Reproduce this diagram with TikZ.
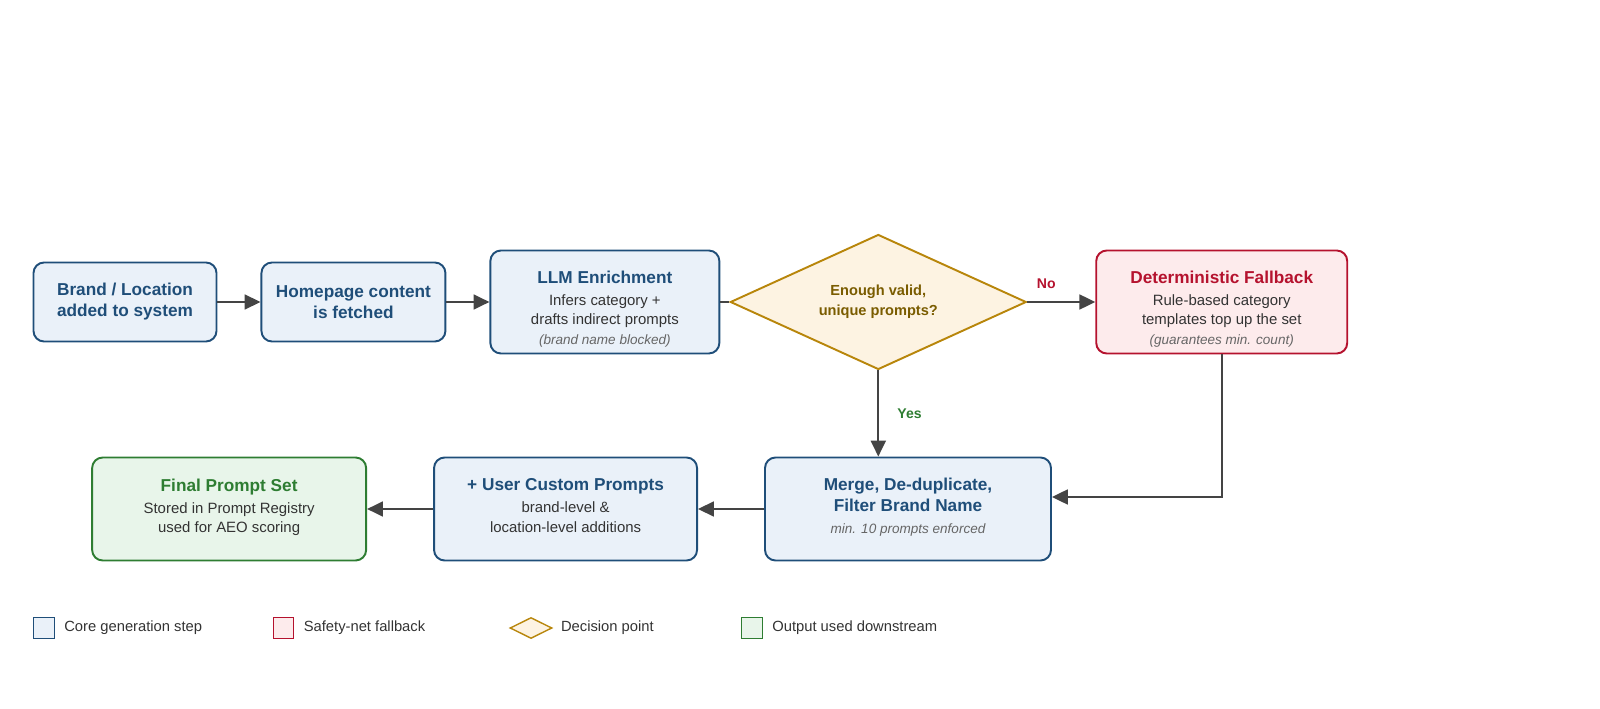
\documentclass[tikz,border=0pt]{standalone}
\usepackage{fontspec}
\setmainfont{Liberation Sans}
\usepackage{xcolor}
\usetikzlibrary{shapes.geometric, calc, positioning, arrows.meta}

\definecolor{coreblue}{HTML}{1F4E79}
\definecolor{corefill}{HTML}{EAF1F9}
\definecolor{fallred}{HTML}{B5122E}
\definecolor{fallfill}{HTML}{FDEBEC}
\definecolor{decgold}{HTML}{B8860B}
\definecolor{decfill}{HTML}{FDF3E2}
\definecolor{dectext}{HTML}{7A5C00}
\definecolor{outgreen}{HTML}{2E7D32}
\definecolor{outfill}{HTML}{E8F5EA}
\definecolor{bodytext}{HTML}{333333}
\definecolor{notegray}{HTML}{666666}
\definecolor{arrowgray}{HTML}{444444}

\newcommand{\steptitle}[2]{\textcolor{#1}{\fontsize{9.8}{12}\selectfont\bfseries #2}}
\newcommand{\stepnote}[1]{\textcolor{notegray}{\fontsize{7.7}{11}\selectfont\itshape #1}}
% struts to nudge text blocks inside the boxes
\newcommand{\topstrut}{\rule{0pt}{15pt}}
\newcommand{\botstrut}{\rule[-4pt]{0pt}{4pt}}

\begin{document}
\begin{tikzpicture}[node distance=0.86cm,
    stepbox/.style={draw, line width=1.1pt, rounded corners=6pt, align=center, text=bodytext,
        font=\fontsize{8.5}{11}\selectfont},
    core/.style={stepbox, draw=coreblue, fill=corefill},
    fallback/.style={stepbox, draw=fallred, fill=fallfill},
    output/.style={stepbox, draw=outgreen, fill=outfill},
    bigtitle/.style={text=coreblue, font=\fontsize{9.8}{12}\selectfont\bfseries},
    decision/.style={diamond, aspect=2.2, draw=decgold, fill=decfill, line width=1.1pt, inner sep=0pt,
        minimum width=5.92cm, minimum height=2.7cm, align=center, text=dectext,
        font=\fontsize{8.3}{11.5}\selectfont\bfseries},
    flow/.style={draw=arrowgray, line width=1.1pt, -{Triangle[length=9pt,width=8.5pt]}},
    legbox/.style={draw, line width=0.8pt, minimum size=0.41cm, inner sep=0pt},
    legtext/.style={inner sep=0pt, text=bodytext, font=\fontsize{8.4}{10}\selectfont}]
    \useasboundingbox (0,0) rectangle (32,-14.18);

    % top row
    \node[core, bigtitle, minimum width=3.66cm, minimum height=1.58cm] (brand) at (2.50,-6.04) {Brand / Location\\added to system};
    \node[core, bigtitle, minimum width=3.68cm, minimum height=1.58cm, right=of brand] (fetch) {Homepage content\\is fetched};
    \node[core, minimum width=4.58cm, minimum height=2.06cm, right=of fetch] (llm)
        {\topstrut\steptitle{coreblue}{LLM Enrichment}\\[1.5pt] Infers category +\\drafts indirect prompts\\\stepnote{(brand name blocked)}};
    \node[decision, right=0.18cm of llm] (check) {Enough valid,\\unique prompts?};
    \node[fallback, minimum width=5.02cm, minimum height=2.06cm, right=1.36cm of check] (fallback)
        {\topstrut\steptitle{fallred}{Deterministic Fallback}\\[1.5pt] Rule-based category\\templates top up the set\\\stepnote{(guarantees min. count)}};

    % bottom row
    \node[core, minimum width=5.72cm, minimum height=2.06cm] (merge) at (18.16,-10.18)
        {\steptitle{coreblue}{Merge, De-duplicate,}\\[1pt]\steptitle{coreblue}{Filter Brand Name}\\[1.5pt]\stepnote{min. 10 prompts enforced}\botstrut};
    \node[core, minimum width=5.26cm, minimum height=2.06cm, left=1.32cm of merge] (custom)
        {\steptitle{coreblue}{+ User Custom Prompts}\\[1.5pt] brand-level \&\\location-level additions\botstrut};
    \node[output, minimum width=5.48cm, minimum height=2.06cm, left=1.32cm of custom] (final)
        {\steptitle{outgreen}{Final Prompt Set}\\[1.5pt] Stored in Prompt Registry\\used for AEO scoring\botstrut};
    \coordinate (mergein) at ($(merge.east)+(0,0.24)$);

    % connectors
    \draw[flow] (brand) -- (fetch);
    \draw[flow] (fetch) -- (llm);
    \draw[draw=arrowgray, line width=1.1pt] (llm) -- (check);
    \draw[flow] (check) -- node[pos=0.28, above=4pt, text=fallred, font=\fontsize{8}{10}\selectfont\bfseries] {No} (fallback);
    \draw[flow] (check.south) -- node[pos=0.5, right=7pt, text=outgreen, font=\fontsize{8}{10}\selectfont\bfseries] {Yes} (check.south |- merge.north);
    \draw[flow] (fallback.south) |- (mergein);
    \draw[flow] (merge) -- (custom);
    \draw[flow] (custom) -- (final);

    % legend
    \node[legbox, draw=coreblue, fill=corefill] (legcore) at (0.88,-12.56) {};
    \node[legtext, right=0.18cm of legcore] (legcoretxt) {Core generation step};
    \node[legbox, draw=fallred, fill=fallfill] (legfall) at (5.67,-12.56) {};
    \node[legtext, right=0.18cm of legfall] (legfalltxt) {Safety-net fallback};
    \node[diamond, aspect=2, draw=decgold, fill=decfill, line width=0.8pt, inner sep=0pt,
        minimum width=0.84cm, minimum height=0.42cm] (legdec) at (10.62,-12.56) {};
    \node[legtext, right=0.16cm of legdec] (legdectxt) {Decision point};
    \node[legbox, draw=outgreen, fill=outfill] (legout) at (15.04,-12.56) {};
    \node[legtext, right=0.18cm of legout] (legouttxt) {Output used downstream};
\end{tikzpicture}
\end{document}
